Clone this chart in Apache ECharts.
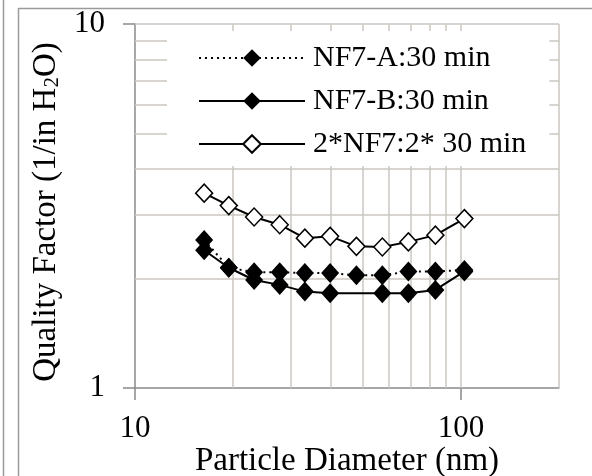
<!DOCTYPE html>
<html>
<head>
<meta charset="utf-8">
<script src="https://cdn.jsdelivr.net/npm/echarts@6/dist/echarts.min.js"></script>
<style>
  html, body { margin: 0; padding: 0; background: #fff; }
  #chart { width: 592px; height: 476px; }
</style>
</head>
<body>
<div id="chart"></div>
<script>
// Particle diameter bins (nm)
const diameters = [16.3, 19.4, 23.2, 27.8, 33.2, 39.7, 47.8, 57.4, 69.0, 83.5, 102.5];
// Quality factor (1/in H2O) per filter
const qfNF7A = [2.55, 2.14, 2.08, 2.08, 2.07, 2.07, 2.04, 2.04, 2.09, 2.09, 2.11];
const qfNF7B = [2.39, 2.14, 1.98, 1.92, 1.84, 1.82, null, 1.82, 1.82, 1.86, 2.09];
const qf2NF7 = [3.43, 3.17, 2.95, 2.81, 2.58, 2.61, 2.45, 2.44, 2.52, 2.63, 2.92];

const seriesNames = ['NF7-A:30 min', 'NF7-B:30 min', '2*NF7:2* 30 min'];

// Axis ticks and log grid lines
const xTickValues = [10, 100];
const yTickValues = [1, 10];
const xGridLines = [20, 30, 40, 50, 60, 70, 80, 90, 100, 200];
const yGridLines = [2, 3, 4, 5, 6, 7, 8, 9, 10];

const FONT = '"Liberation Serif", "Times New Roman", serif';
const GRID_COLOR = '#cbc7c0';
const AXIS_COLOR = '#8a8a8a';

function pairs(xs, ys) {
  return xs.map((x, i) => [x, ys[i]]);
}

const chart = echarts.init(document.getElementById('chart'), null, { renderer: 'canvas' });

const option = {
  animation: false,
  backgroundColor: '#fff',
  grid: { left: 135, right: 33, top: 24, bottom: 88, containLabel: false, outerBoundsMode: 'none' },
  xAxis: {
    type: 'log',
    logBase: 10,
    min: 10,
    max: 200,
    name: 'Particle Diameter (nm)',
    nameLocation: 'middle',
    nameGap: 57,
    nameMoveOverlap: false,
    nameTextStyle: { fontFamily: FONT, fontSize: 33, color: '#000' },
    axisLine: { show: true, lineStyle: { color: AXIS_COLOR, width: 1.5 } },
    axisTick: { show: true, inside: false, length: 12, customValues: xTickValues,
                lineStyle: { color: AXIS_COLOR, width: 1.5 } },
    axisLabel: { customValues: xTickValues, margin: 25, fontFamily: FONT, fontSize: 31, color: '#000' },
    splitLine: { show: false },
    minorTick: { show: false }
  },
  yAxis: {
    type: 'log',
    logBase: 10,
    min: 1,
    max: 10,
    name: 'Quality Factor (1/in H{sub|2}O)',
    nameLocation: 'middle',
    nameRotate: 90,
    nameGap: 72,
    nameMoveOverlap: false,
    nameTextStyle: {
      fontFamily: FONT, fontSize: 33, color: '#000',
      padding: [0, 12, 0, 0],
      rich: {
        sub: { fontFamily: FONT, fontSize: 21, color: '#000', verticalAlign: 'bottom', lineHeight: 21 }
      }
    },
    axisLine: { show: true, lineStyle: { color: AXIS_COLOR, width: 1.5 } },
    axisTick: { show: true, inside: false, length: 12, customValues: yTickValues,
                lineStyle: { color: AXIS_COLOR, width: 1.5 } },
    axisLabel: { customValues: yTickValues, margin: 30, fontFamily: FONT, fontSize: 31, color: '#000' },
    splitLine: { show: false }
  },
  legend: {
    z: 20,
    orient: 'vertical',
    left: 167,
    top: 31,
    padding: [11, 23, 6, 31],
    backgroundColor: '#fff',
    itemWidth: 106,
    itemHeight: 22,
    itemGap: 11,
    data: seriesNames,
    textStyle: { fontFamily: FONT, fontSize: 30, color: '#000', lineHeight: 32, padding: [0, 0, 0, 3] }
  },
  series: [
    {
      // log grid lines drawn from the axis scales
      type: 'line',
      name: '__grid',
      data: [],
      z: 1,
      silent: true,
      markLine: {
        silent: true,
        z: 1,
        symbol: ['none', 'none'],
        label: { show: false },
        lineStyle: { color: GRID_COLOR, width: 1.5, type: 'solid' },
        emphasis: { disabled: true },
        data: xGridLines.map(v => ({ xAxis: v })).concat(yGridLines.map(v => ({ yAxis: v })))
      }
    },
    {
      name: seriesNames[0],
      type: 'line',
      z: 3,
      data: pairs(diameters, qfNF7A),
      symbol: 'diamond',
      symbolSize: [18, 20],
      lineStyle: { color: '#000', width: 2, type: [2, 4] },
      itemStyle: { color: '#000', borderColor: '#000', borderWidth: 0 }
    },
    {
      name: seriesNames[1],
      type: 'line',
      z: 3,
      connectNulls: true,
      data: pairs(diameters, qfNF7B),
      symbol: 'diamond',
      symbolSize: [18, 20],
      lineStyle: { color: '#000', width: 2, type: 'solid' },
      itemStyle: { color: '#000', borderColor: '#000', borderWidth: 0 }
    },
    {
      name: seriesNames[2],
      type: 'line',
      z: 3,
      data: pairs(diameters, qf2NF7),
      symbol: 'diamond',
      symbolSize: [17, 18],
      lineStyle: { color: '#000', width: 2, type: 'solid' },
      itemStyle: { color: '#fff', borderColor: '#000', borderWidth: 1.5 }
    }
  ],
  graphic: [
    { type: 'line', z: 10, shape: { x1: 3.5, y1: 0, x2: 3.5, y2: 476 }, style: { stroke: '#9a9a9a', lineWidth: 1.5 } },
    { type: 'line', z: 10, shape: { x1: 18.5, y1: 8, x2: 18.5, y2: 476 }, style: { stroke: '#9a9a9a', lineWidth: 1.5 } },
    { type: 'line', z: 10, shape: { x1: 18, y1: 8.5, x2: 592, y2: 8.5 }, style: { stroke: '#9a9a9a', lineWidth: 1.5 } }
  ]
};

chart.setOption(option);
</script>
</body>
</html>
